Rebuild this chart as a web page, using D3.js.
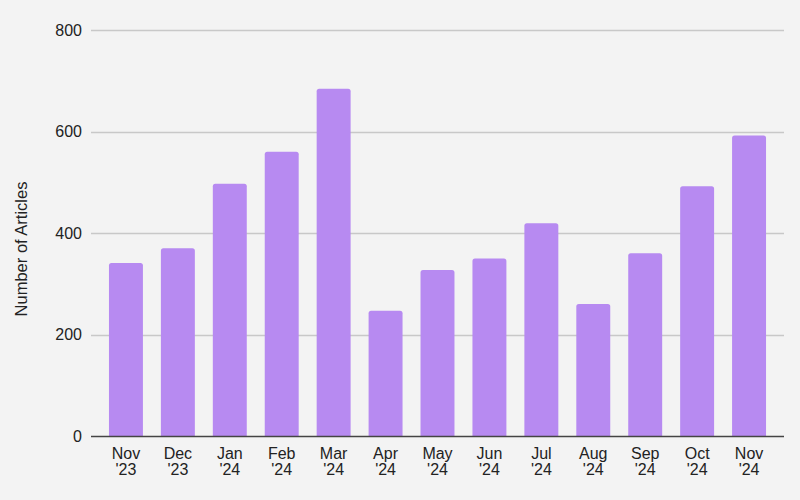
<!DOCTYPE html>
<html>
<head>
    <meta charset="utf-8">
    <script src="https://d3js.org/d3.v7.min.js"></script>
    <style>
        body { margin: 0; background: #f3f3f3; }
        text { font-family: "Liberation Sans", Arial, sans-serif; fill: #222; }
        .grid line { stroke: #c8c8c8; stroke-width: 1.3; }
        .bar { fill: #b78af1; }
    </style>
</head>
<body>
    <svg id="chart"></svg>
    <script>
        var months = ["Nov", "Dec", "Jan", "Feb", "Mar", "Apr", "May", "Jun", "Jul", "Aug", "Sep", "Oct", "Nov"];
        var years = ["'23", "'23", "'24", "'24", "'24", "'24", "'24", "'24", "'24", "'24", "'24", "'24", "'24"];
        var articles = [341, 370, 497, 560, 684, 247, 327, 350, 419, 260, 360, 492, 592];
        var yTicks = [0, 200, 400, 600, 800];

        var width = 800, height = 500;
        var margin = {top: 30, right: 16, bottom: 64, left: 91};

        var svg = d3.select("#chart")
            .attr("width", width)
            .attr("height", height);

        svg.append("rect")
            .attr("width", width)
            .attr("height", height)
            .attr("fill", "#f3f3f3");

        var ids = months.map(function(m, i) { return i; });

        var x = d3.scaleBand()
            .domain(ids)
            .range([margin.left, width - margin.right])
            .padding(0.346);

        var y = d3.scaleLinear()
            .domain([0, 800])
            .range([height - margin.bottom, margin.top]);

        // gridlines
        svg.append("g")
            .attr("class", "grid")
            .selectAll("line")
            .data(yTicks.slice(1))
            .enter().append("line")
            .attr("x1", margin.left)
            .attr("x2", width - margin.right)
            .attr("y1", function(d) { return Math.round(y(d)) + 0.5; })
            .attr("y2", function(d) { return Math.round(y(d)) + 0.5; });

        // y tick labels
        svg.append("g")
            .selectAll("text")
            .data(yTicks)
            .enter().append("text")
            .attr("x", margin.left - 9)
            .attr("y", function(d) { return y(d); })
            .attr("dy", "0.35em")
            .attr("text-anchor", "end")
            .style("font-size", "16px")
            .text(function(d) { return d; });

        // bars, rounded top corners only
        var r = 2.5;
        svg.append("g")
            .selectAll("path")
            .data(articles)
            .enter().append("path")
            .attr("class", "bar")
            .attr("d", function(d, i) {
                var x0 = x(i), x1 = x(i) + x.bandwidth();
                var y0 = y(0), y1 = y(d);
                return "M" + x0 + "," + y0 +
                    "V" + (y1 + r) +
                    "Q" + x0 + "," + y1 + " " + (x0 + r) + "," + y1 +
                    "H" + (x1 - r) +
                    "Q" + x1 + "," + y1 + " " + x1 + "," + (y1 + r) +
                    "V" + y0 + "Z";
            });

        // baseline
        svg.append("line")
            .attr("x1", margin.left)
            .attr("x2", width - margin.right)
            .attr("y1", y(0) + 0.5)
            .attr("y2", y(0) + 0.5)
            .attr("stroke", "#444")
            .attr("stroke-width", 1.6);

        // x labels, two lines
        var xl = svg.append("g")
            .selectAll("text")
            .data(ids)
            .enter().append("text")
            .attr("text-anchor", "middle")
            .style("font-size", "16px")
            .attr("transform", function(i) {
                return "translate(" + (x(i) + x.bandwidth() / 2) + "," + (y(0) + 22.5) + ")";
            });
        xl.append("tspan")
            .attr("x", 0)
            .attr("y", 0)
            .text(function(i) { return months[i]; });
        xl.append("tspan")
            .attr("x", 0)
            .attr("y", 16)
            .text(function(i) { return years[i]; });

        // y axis title
        svg.append("text")
            .attr("transform", "translate(27,249) rotate(-90)")
            .attr("text-anchor", "middle")
            .style("font-size", "16.5px")
            .text("Number of Articles");
    </script>
</body>
</html>
